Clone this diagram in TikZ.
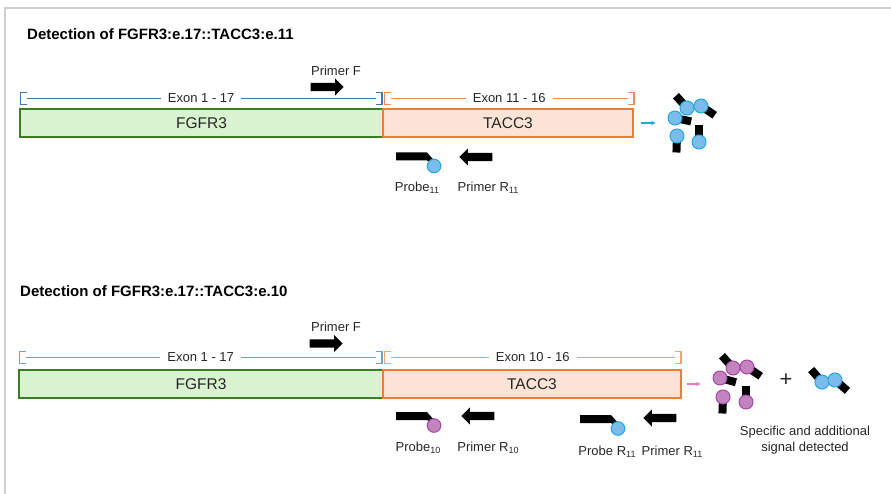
\documentclass[tikz,border=0pt]{standalone}
\usepackage{fontspec}
\setmainfont{Liberation Sans}
\usetikzlibrary{arrows.meta,positioning,calc,shapes.arrows}

\definecolor{fgfill}{HTML}{D9F2D0}
\definecolor{fgline}{HTML}{3A7D22}
\definecolor{tcfill}{HTML}{FBE3D6}
\definecolor{tcline}{HTML}{ED7D31}
\definecolor{brblueA}{HTML}{3F78A6}
\definecolor{brblueB}{HTML}{6FA0C8}
\definecolor{brorangeA}{HTML}{F08A52}
\definecolor{brorangeB}{HTML}{F4A070}
\definecolor{dotblue}{HTML}{7CBCEB}
\definecolor{dotblueline}{HTML}{23A6E0}
\definecolor{dotpink}{HTML}{C283BE}
\definecolor{dotpinkline}{HTML}{A548A5}
\definecolor{sigpink}{HTML}{E07CCB}
\definecolor{txt}{HTML}{262626}
\definecolor{framegray}{HTML}{CFCFCF}

\newcommand{\lowidx}[1]{\raisebox{-2.5pt}{\fontsize{9}{10}\selectfont #1}}

% bracket over an exon range, between two named points
\newcommand{\exonbracket}[4]{%
  \draw[#3] ($(#1)+(6,-6)$) -| ($(#1)+(0,6)$) -- ++(6,0);
  \draw[#3] ($(#2)+(-6,-6)$) -| ($(#2)+(0,6)$) -- ++(-6,0);
  \draw[#3] ($(#1)+(6,0)$) -- node[exonlabel]{#4} ($(#2)+(-6,0)$);
}

% one detected probe: tag plus dye
\newcommand{\signaldot}[4]{%
  \draw[line width=8pt] (#1,#2) -- ++(#3:16.5);
  \draw[#4] (#1,#2) circle (7);
}

\tikzset{
  pics/probe/.style={code={
    \fill[black] (0,0) -- (31,0) -- (39,9) -- (39,13) -- (31,8) -- (0,8) -- cycle;
    \draw[#1] (38,13.5) circle (6.8);
  }}
}

\begin{document}
\begin{tikzpicture}[x=1pt, y=-1pt,
  fgbox/.style={rectangle, draw=fgline, fill=fgfill, line width=1.4pt,
                minimum height=28pt, inner sep=0pt, text=txt,
                font=\fontsize{15.5}{18}\selectfont},
  tcbox/.style={fgbox, draw=tcline, fill=tcfill},
  heading/.style={anchor=west, inner sep=0pt, font=\bfseries\fontsize{15}{18}\selectfont},
  lbl/.style={inner sep=1pt, text=txt, font=\fontsize{13}{16}\selectfont},
  exonlabel/.style={lbl, fill=white, inner xsep=7pt, inner ysep=0pt},
  primer/.style={single arrow, fill=black, inner sep=4pt, minimum height=33pt,
                 single arrow head extend=4.5pt, single arrow tip angle=90, anchor=tip},
  dot11/.style={fill=dotblue, draw=dotblueline, line width=1pt},
  dot10/.style={fill=dotpink, draw=dotpinkline, line width=1pt},
  brk/.style={line width=1.2pt},
  sig/.style={-{Stealth[length=4.5pt, width=4.5pt]}, line width=1.2pt}
]
  \useasboundingbox (0,0) rectangle (891,494);
  \draw[framegray, line width=2pt] (5,494) -- (5,8) -- (891,8);

  % panel 1: e.17::e.11
  \node[heading] (title1) at (27,34) {Detection of FGFR3:e.17::TACC3:e.11};
  \node[fgbox, minimum width=363pt] (fgfr1) at (201.5,123) {FGFR3};
  \node[tcbox, minimum width=250pt] (tacc1) at (508,123) {TACC3};
  \coordinate (ex1a) at ([xshift=1.2pt, yshift=9.8pt]fgfr1.north west);
  \coordinate (ex1b) at ([xshift=-1.8pt, yshift=9.8pt]fgfr1.north east);
  \coordinate (ex1c) at ([xshift=2.2pt, yshift=9.8pt]tacc1.north west);
  \coordinate (ex1d) at ([xshift=0.2pt, yshift=9.8pt]tacc1.north east);
  \exonbracket{ex1a}{ex1b}{brk, brblueA}{Exon 1 - 17}
  \exonbracket{ex1c}{ex1d}{brk, brorangeA}{Exon 11 - 16}

  \node[primer] (pf1) at (344,87) {};
  \node[lbl] (pf1lbl) at (336,71) {Primer F};
  \pic at (396,152.5) {probe=dot11};
  \node[lbl] (pb1lbl) at (417,188) {Probe\lowidx{11}};
  \node[primer, shape border rotate=180] (pr1) at (459,157) {};
  \node[lbl] (pr1lbl) at (488,188) {Primer R\lowidx{11}};

  \draw[sig, dotblueline] ([xshift=7pt]tacc1.east) -- ([xshift=22pt]tacc1.east);
  \signaldot{687}{108}{228}{dot11}
  \signaldot{701}{106}{34}{dot11}
  \signaldot{675}{118}{12}{dot11}
  \signaldot{677}{136}{92}{dot11}
  \signaldot{699}{142}{270}{dot11}

  % panel 2: e.17::e.10
  \node[heading] (title2) at (20,291) {Detection of FGFR3:e.17::TACC3:e.10};
  \node[fgbox, minimum width=364pt] (fgfr2) at (201,384) {FGFR3};
  \node[tcbox, minimum width=298pt] (tacc2) at (532,384) {TACC3};
  \coordinate (ex2a) at ([xshift=1.2pt, yshift=11.8pt]fgfr2.north west);
  \coordinate (ex2b) at ([xshift=-1.8pt, yshift=11.8pt]fgfr2.north east);
  \coordinate (ex2c) at ([xshift=2.2pt, yshift=11.8pt]tacc2.north west);
  \coordinate (ex2d) at ([xshift=-0.8pt, yshift=11.8pt]tacc2.north east);
  \exonbracket{ex2a}{ex2b}{brk, brblueB}{Exon 1 - 17}
  \exonbracket{ex2c}{ex2d}{brk, brorangeB}{Exon 10 - 16}

  \node[primer] (pf2) at (343,343.5) {};
  \node[lbl] (pf2lbl) at (336,327) {Primer F};
  \pic at (396,412) {probe=dot10};
  \node[lbl] (pb2lbl) at (418,448) {Probe\lowidx{10}};
  \node[primer, shape border rotate=180] (pr2) at (461,416) {};
  \node[lbl] (pr2lbl) at (488,448) {Primer R\lowidx{10}};
  \pic at (580,415) {probe=dot11};
  \node[lbl] (pb3lbl) at (607,452) {Probe R\lowidx{11}};
  \node[primer, shape border rotate=180] (pr3) at (643,418) {};
  \node[lbl] (pr3lbl) at (672,452) {Primer R\lowidx{11}};

  \draw[sig, sigpink] ([xshift=5pt]tacc2.east) -- ([xshift=19pt]tacc2.east);
  \signaldot{733}{368}{228}{dot10}
  \signaldot{747}{367}{34}{dot10}
  \signaldot{720}{378}{15}{dot10}
  \signaldot{723}{397}{92}{dot10}
  \signaldot{746}{402}{270}{dot10}
  \node[lbl, font=\fontsize{22}{22}\selectfont] (plus) at (786,380) {+};
  \signaldot{822}{382}{229}{dot11}
  \signaldot{835}{380}{41}{dot11}
  \node[lbl, align=center] (result) at (805,440) {Specific and additional\\signal detected};
\end{tikzpicture}
\end{document}
